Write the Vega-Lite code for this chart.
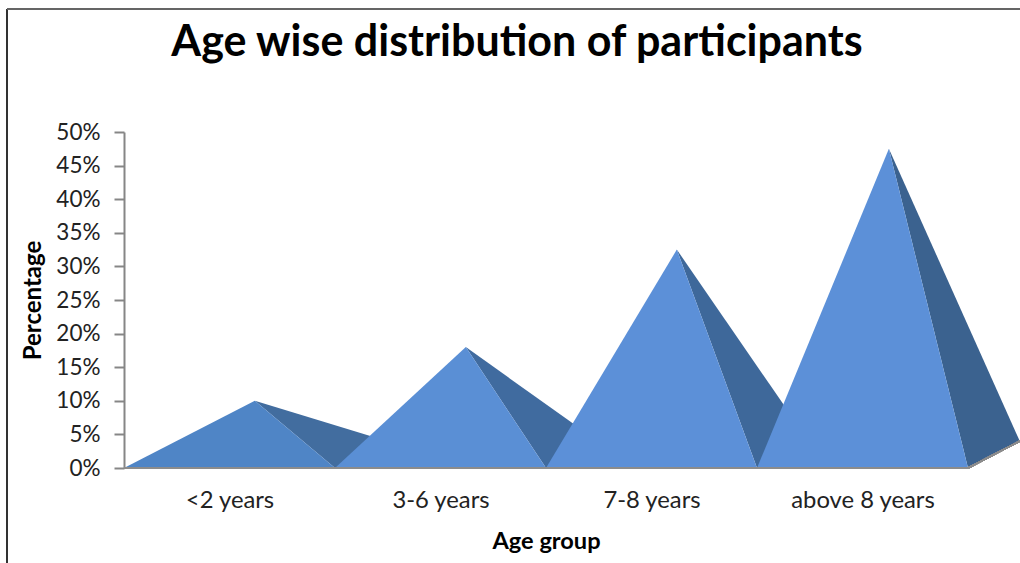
{
"$schema":"https://vega.github.io/schema/vega-lite/v6.json",
"width":896,"height":336,
"autosize":{"type":"none"},
"padding":{"left":124,"top":132,"right":0,"bottom":95},
"background":"#ffffff",
"view":{"stroke":null},
"config":{"font":"Lato"},
"title":{"text":"Age wise distribution of participants","font":"Lato","fontSize":43,"fontWeight":"bold","color":"#000000","anchor":"middle","dx":-55,"offset":-57},
"data":{"values":[
{"face":"side1","pos":0.62,"share":0.10,"step":1},{"face":"side1","pos":1.0,"share":0,"step":2},{"face":"side1","pos":1.245,"share":0.04,"step":3},
{"face":"front1","pos":0,"share":0,"step":1},{"face":"front1","pos":0.62,"share":0.10,"step":2},{"face":"front1","pos":1.0,"share":0,"step":3},
{"face":"side2","pos":1.62,"share":0.18,"step":1},{"face":"side2","pos":2.0,"share":0,"step":2},{"face":"side2","pos":2.245,"share":0.04,"step":3},
{"face":"front2","pos":1.0,"share":0,"step":1},{"face":"front2","pos":1.62,"share":0.18,"step":2},{"face":"front2","pos":2.0,"share":0,"step":3},
{"face":"side3","pos":2.62,"share":0.325,"step":1},{"face":"side3","pos":3.0,"share":0,"step":2},{"face":"side3","pos":3.245,"share":0.04,"step":3},
{"face":"front3","pos":2.0,"share":0,"step":1},{"face":"front3","pos":2.62,"share":0.325,"step":2},{"face":"front3","pos":3.0,"share":0,"step":3},
{"face":"side4","pos":3.625,"share":0.475,"step":1},{"face":"side4","pos":4.0,"share":0,"step":2},{"face":"side4","pos":4.245,"share":0.04,"step":3},
{"face":"front4","pos":3.0,"share":0,"step":1},{"face":"front4","pos":3.625,"share":0.475,"step":2},{"face":"front4","pos":4.0,"share":0,"step":3}
]},
"layer":[
{"mark":{"type":"rule","color":"#333333","strokeWidth":1.5},
 "encoding":{"x":{"datum":-0.5545,"type":"quantitative","scale":{"domain":[0,4.2464],"nice":false,"zero":false}},"y":{"datum":0.683,"type":"quantitative","scale":{"domain":[0,0.5],"nice":false}},"y2":{"datum":-0.15}}},
{"mark":{"type":"rule","color":"#666666","strokeWidth":1.5},
 "encoding":{"x":{"datum":-0.5545,"type":"quantitative"},"x2":{"datum":4.2464},"y":{"datum":0.683,"type":"quantitative"}}},
{"mark":{"type":"line","filled":true,"strokeWidth":0,"clip":false},
 "encoding":{
  "x":{"field":"pos","type":"quantitative",
   "axis":{"values":[0.5,1.5,2.5,3.5],"labelExpr":"['<2 years','3-6 years','7-8 years','above 8 years'][floor(datum.value)]","ticks":false,"domain":false,"grid":false,"labelFont":"Lato","labelFontSize":23.8,"labelColor":"#222222","labelPadding":20,"title":"Age group","titleFont":"Lato","titleFontSize":23.6,"titleFontWeight":"bold","titleColor":"#000000","titleX":422,"titleY":61}},
  "y":{"field":"share","type":"quantitative",
   "axis":{"values":[0,0.05,0.1,0.15,0.2,0.25,0.3,0.35,0.4,0.45,0.5],"tickCount":12,"labelOverlap":false,"format":".0%","grid":false,"domainColor":"#868686","domainWidth":2,"tickColor":"#868686","tickWidth":2,"tickSize":10,"labelFont":"Lato","labelFontSize":22.5,"labelColor":"#222222","labelPadding":14,"title":"Percentage","titleFont":"Lato","titleFontSize":24,"titleFontWeight":"bold","titleColor":"#000000","titleX":-79}},
  "order":{"field":"step","type":"quantitative"},
  "color":{"field":"face","type":"nominal","legend":null,"sort":null,
    "scale":{"domain":["side1","front1","side2","front2","side3","front3","side4","front4"],"range":["#426d9f","#4f85c6","#406b9f","#5a8fd5","#3e689a","#5c90d8","#3b628f","#5c90d8"]}}
 }},
{"mark":{"type":"rule","color":"#8c8c8c","strokeWidth":2},
 "encoding":{"x":{"datum":0,"type":"quantitative"},"x2":{"datum":4},"y":{"datum":0,"type":"quantitative"}}},
{"mark":{"type":"rule","color":"#8c8c8c","strokeWidth":1.5},
 "encoding":{"x":{"datum":4,"type":"quantitative"},"x2":{"datum":4.245},"y":{"datum":0,"type":"quantitative"},"y2":{"datum":0.04}}}
],
"resolve":{"scale":{"x":"shared","y":"shared"}}
}
